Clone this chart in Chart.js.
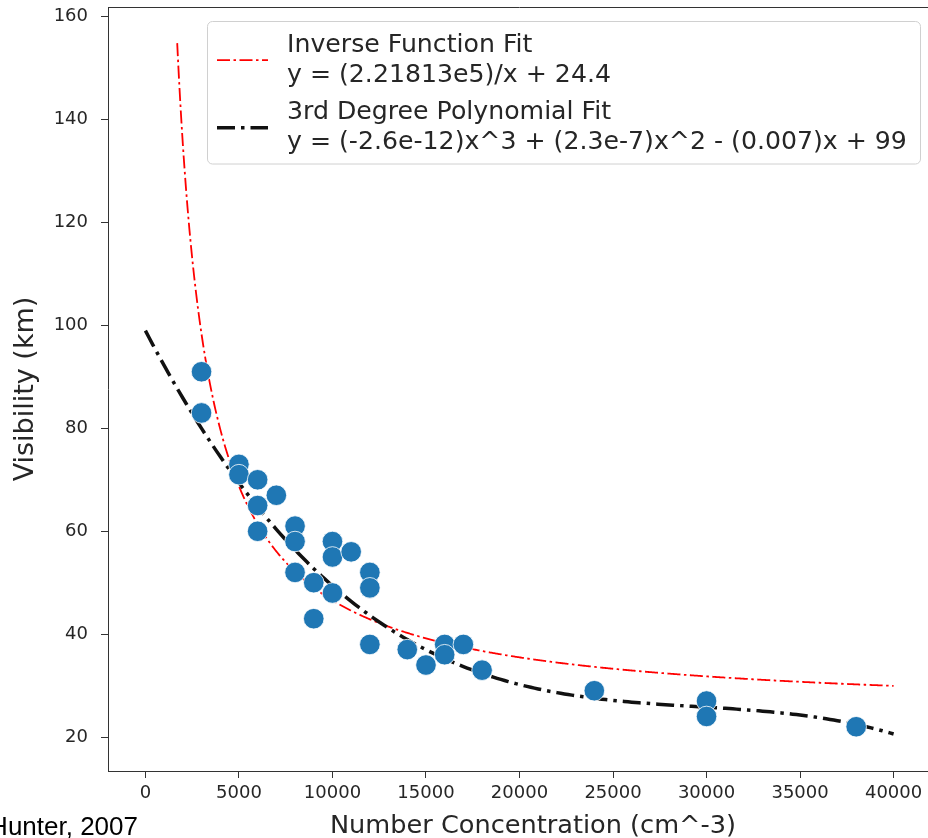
<!DOCTYPE html>
<html>
<head>
<meta charset="utf-8">
<script src="https://cdn.jsdelivr.net/npm/chart.js@4/dist/chart.umd.min.js"></script>
<style>
  html, body { margin: 0; padding: 0; overflow: hidden; background: #fff; }
  canvas { display: block; }
</style>
</head>
<body>
<canvas id="chart" width="931" height="838"></canvas>
<script>
// Observations: particle number concentration (cm^-3) vs visibility (km)
const concentration = [3000, 3000, 5000, 5000, 6000, 6000, 6000, 7000, 8000, 8000,
                       8000, 9000, 9000, 10000, 10000, 10000, 11000, 12000, 12000, 12000,
                       14000, 15000, 16000, 16000, 17000, 18000, 24000, 30000, 30000, 38000];
const visibility = [91, 83, 73, 71, 70, 65, 60, 67, 61, 58,
                    52, 50, 43, 58, 55, 48, 56, 52, 49, 38,
                    37, 34, 38, 36, 38, 33, 29, 27, 24, 22];

// Fit coefficients, as printed in the legend
const inverseCoef = [2.21813e5, 24.4];                 // a / x + b
const polyCoef = [-2.6e-12, 2.3e-7, -0.007, 99];       // c3 x^3 + c2 x^2 + c1 x + c0
const inverseRange = [1700, 40000];
const polyRange = [0, 40000];

const inverseLabel = ['Inverse Function Fit', 'y = (2.21813e5)/x + 24.4'];
const polyLabel = ['3rd Degree Polynomial Fit', 'y = (-2.6e-12)x^3 + (2.3e-7)x^2 - (0.007)x + 99'];
const xTitle = 'Number Concentration (cm^-3)';
const yTitle = 'Visibility (km)';
const sourceNote = 'Hunter, 2007';

const xTicks = [0, 5000, 10000, 15000, 20000, 25000, 30000, 35000, 40000];
const yTicks = [20, 40, 60, 80, 100, 120, 140, 160];

// Evaluate each fitted equation along its x range
function sampleCurve(range, step, f) {
  const pts = [];
  for (let x = range[0]; x <= range[1] + 1e-9; x += step) pts.push({ x: x, y: f(x) });
  return pts;
}
const inverseFit = x => inverseCoef[0] / x + inverseCoef[1];
const polyFit = x => ((polyCoef[0] * x + polyCoef[1]) * x + polyCoef[2]) * x + polyCoef[3];

const inversePoints = sampleCurve(inverseRange, 50, inverseFit);
const polyPoints = sampleCurve(polyRange, 200, polyFit);
const scatterPoints = concentration.map((c, i) => ({ x: c, y: visibility[i] }));

const FONT = '"DejaVu Sans", sans-serif';
const TEXT = '#262626';
Chart.defaults.font.family = FONT;

// Top / right spines of the axes box
const framePlugin = {
  id: 'frame',
  beforeDatasetsDraw(chart) {
    const { ctx, chartArea: a } = chart;
    ctx.save();
    ctx.strokeStyle = '#333';
    ctx.lineWidth = 1;
    ctx.beginPath();
    ctx.moveTo(a.left, Math.round(a.top) + 0.5);
    ctx.lineTo(a.right, Math.round(a.top) + 0.5);
    ctx.moveTo(Math.round(a.right) + 0.5, a.top);
    ctx.lineTo(Math.round(a.right) + 0.5, a.bottom);
    ctx.stroke();
    ctx.restore();
  }
};

// Two-line legend entries for the fitted curves (in plotting order), x-axis title, source note
const legendPlugin = {
  id: 'fitLegend',
  afterDraw(chart) {
    const { ctx } = chart;
    const entries = chart.data.datasets.filter(d => d.showLine).sort((a, b) => a.legendRank - b.legendRank);
    ctx.save();
    ctx.beginPath();
    ctx.roundRect(207.5, 21.5, 713, 142.5, 5);
    ctx.fillStyle = 'rgba(255,255,255,0.8)';
    ctx.fill();
    ctx.strokeStyle = '#d0d0d0';
    ctx.lineWidth = 1;
    ctx.stroke();

    const firstBaselines = [51.7, 119.3];
    const lineGap = 30;
    entries.forEach((d, i) => {
      const b0 = firstBaselines[i];
      const hy = (b0 + b0 + lineGap) / 2 - 6.6;
      ctx.beginPath();
      ctx.setLineDash(d.borderDash);
      ctx.lineCap = 'butt';
      ctx.strokeStyle = d.borderColor;
      ctx.lineWidth = d.borderWidth;
      ctx.moveTo(217, hy);
      ctx.lineTo(268, hy);
      ctx.stroke();
      ctx.setLineDash([]);
      ctx.fillStyle = TEXT;
      ctx.font = '25.2px ' + FONT;
      ctx.textAlign = 'left';
      ctx.textBaseline = 'alphabetic';
      d.label.forEach((line, k) => ctx.fillText(line, 287, b0 + k * lineGap));
    });

    // x-axis title
    ctx.fillStyle = TEXT;
    ctx.font = '25.6px ' + FONT;
    ctx.textAlign = 'center';
    ctx.textBaseline = 'alphabetic';
    ctx.fillText(xTitle, 533, 833);

    // source note, bottom-left
    ctx.fillStyle = '#000';
    ctx.font = '26px "Liberation Sans", Arial, sans-serif';
    ctx.textAlign = 'right';
    ctx.fillText(sourceNote, 138, 835);
    ctx.restore();
  }
};

// Keep the plot box exactly where the axes are sized, without label overhang padding
function fixBox(size) {
  return s => {
    if (s.isHorizontal()) s.height = size; else s.width = size;
    s.paddingTop = 0; s.paddingBottom = 0; s.paddingLeft = 0; s.paddingRight = 0;
  };
}

new Chart(document.getElementById('chart'), {
  type: 'scatter',
  data: {
    datasets: [
      {
        label: 'Observations',
        data: scatterPoints,
        backgroundColor: '#1f77b4',
        borderColor: '#ffffff',
        borderWidth: 0.8,
        pointRadius: 10.3,
        pointHoverRadius: 10.3,
        showLine: false
      },
      {
        label: polyLabel,
        legendRank: 2,
        data: polyPoints,
        showLine: true,
        borderColor: '#111111',
        borderWidth: 3.5,
        borderDash: [18, 6, 3.5, 6],
        pointRadius: 0,
        tension: 0,
        fill: false
      },
      {
        label: inverseLabel,
        legendRank: 1,
        data: inversePoints,
        showLine: true,
        borderColor: '#ff0000',
        borderWidth: 1.8,
        borderDash: [13, 3.5, 2.5, 3.5],
        pointRadius: 0,
        tension: 0,
        fill: false
      }
    ]
  },
  options: {
    responsive: false,
    animation: false,
    devicePixelRatio: 1,
    layout: { autoPadding: false, padding: { top: 7, left: 0, right: 0, bottom: 0 } },
    plugins: { legend: { display: false }, tooltip: { enabled: false } },
    scales: {
      x: {
        type: 'linear',
        position: 'bottom',
        min: -2000,
        max: 42000,
        afterBuildTicks: s => { s.ticks = xTicks.map(v => ({ value: v })); },
        afterFit: fixBox(67),
        ticks: {
          font: { size: 18 }, color: TEXT, padding: 5,
          autoSkip: false, maxRotation: 0, minRotation: 0,
          callback: v => String(v)
        },
        grid: { drawOnChartArea: false, drawTicks: true, tickLength: 7, tickColor: '#333', tickWidth: 1 },
        border: { display: true, color: '#333', width: 1 },
        title: { display: false }
      },
      y: {
        type: 'linear',
        position: 'left',
        min: 13.4,
        max: 161.9,
        afterBuildTicks: s => { s.ticks = yTicks.map(v => ({ value: v })); },
        afterFit: fixBox(108),
        ticks: {
          font: { size: 18 }, color: TEXT, padding: 13,
          autoSkip: false, callback: v => String(v)
        },
        grid: { drawOnChartArea: false, drawTicks: true, tickLength: 7, tickColor: '#333', tickWidth: 1 },
        border: { display: true, color: '#333', width: 1 },
        title: {
          display: true, text: yTitle, color: TEXT,
          font: { size: 27, lineHeight: 1 }, padding: { top: 12, bottom: 0 }
        }
      }
    }
  },
  plugins: [framePlugin, legendPlugin]
});
</script>
</body>
</html>
